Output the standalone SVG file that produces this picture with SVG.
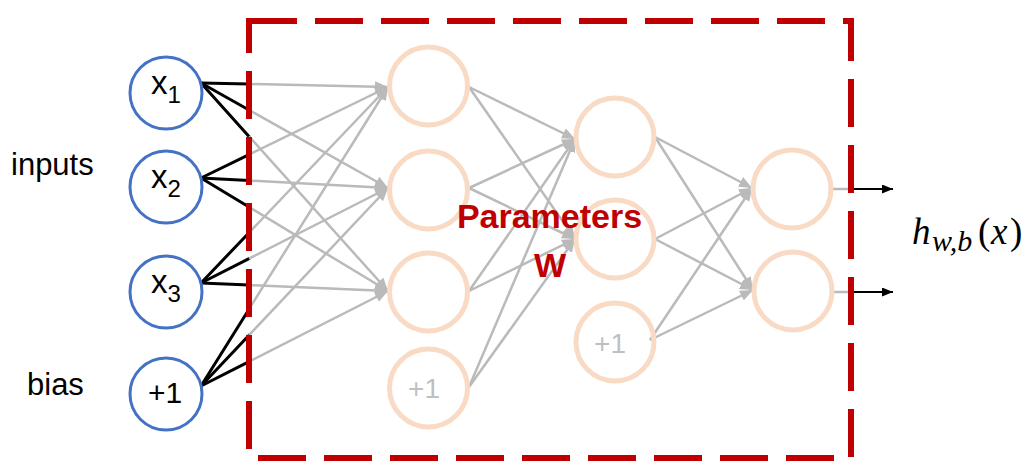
<svg xmlns="http://www.w3.org/2000/svg" width="1034" height="475" viewBox="0 0 1034 475">
<style>
.in{fill:#fff;stroke:#4472C4;stroke-width:3}
.hid{fill:none;stroke:#F9DAC5;stroke-width:5}
.g{stroke:#BABABA;stroke-width:2.5;fill:none}
.gm{stroke:#BABABA;stroke-width:2.5;fill:none;marker-end:url(#ga)}
.b{stroke:#000;stroke-width:3;fill:none;stroke-linecap:round}
.bm{stroke:#000;stroke-width:2;fill:none;marker-end:url(#ba)}
.lbl{font-family:"Liberation Sans",Arial,sans-serif;fill:#000}
.glbl{font-family:"Liberation Sans",Arial,sans-serif;fill:#BFBFBF;font-size:28px}
.red{font-family:"Liberation Sans",Arial,sans-serif;font-weight:bold;fill:#C00000;font-size:34px}
</style>
<defs>
<marker id="ga" markerUnits="userSpaceOnUse" markerWidth="14" markerHeight="12" refX="13" refY="5.5" orient="auto">
<path d="M0,0 L13,5.5 L0,11 z" fill="#BABABA"/>
</marker>
<marker id="ba" markerUnits="userSpaceOnUse" markerWidth="12" markerHeight="10" refX="11" refY="4.5" orient="auto">
<path d="M0,0 L11,4.5 L0,9 z" fill="#000"/>
</marker>
</defs>
<rect width="1034" height="475" fill="#fff"/>
<g id="connectors">
<line class="b" x1="201" y1="83" x2="249" y2="84"/>
<line class="b" x1="201" y1="83" x2="249" y2="110"/>
<line class="b" x1="201" y1="83" x2="249" y2="136.4"/>
<line class="b" x1="201" y1="178" x2="249" y2="154.6"/>
<line class="b" x1="201" y1="178" x2="249" y2="180.6"/>
<line class="b" x1="201" y1="178" x2="249" y2="207"/>
<line class="b" x1="201" y1="283" x2="249" y2="232.7"/>
<line class="b" x1="201" y1="283" x2="249" y2="258.6"/>
<line class="b" x1="201" y1="283" x2="249" y2="285.1"/>
<line class="b" x1="201" y1="386" x2="249" y2="309.2"/>
<line class="b" x1="201" y1="386" x2="249" y2="335.2"/>
<line class="b" x1="201" y1="386" x2="249" y2="361.6"/>
<line class="gm" x1="249" y1="84" x2="388" y2="87"/>
<line class="gm" x1="249" y1="110" x2="388" y2="188"/>
<line class="gm" x1="249" y1="136.4" x2="388" y2="291"/>
<line class="gm" x1="249" y1="154.6" x2="388" y2="87"/>
<line class="gm" x1="249" y1="180.6" x2="388" y2="188"/>
<line class="gm" x1="249" y1="207" x2="388" y2="291"/>
<line class="gm" x1="249" y1="232.7" x2="388" y2="87"/>
<line class="gm" x1="249" y1="258.6" x2="388" y2="188"/>
<line class="gm" x1="249" y1="285.1" x2="388" y2="291"/>
<line class="gm" x1="249" y1="309.2" x2="388" y2="87"/>
<line class="gm" x1="249" y1="335.2" x2="388" y2="188"/>
<line class="gm" x1="249" y1="361.6" x2="388" y2="291"/>
<line class="gm" x1="469" y1="87" x2="575" y2="139"/>
<line class="gm" x1="469" y1="87" x2="575" y2="239"/>
<line class="gm" x1="469" y1="188" x2="575" y2="139"/>
<line class="gm" x1="469" y1="188" x2="575" y2="239"/>
<line class="gm" x1="469" y1="291" x2="575" y2="139"/>
<line class="gm" x1="469" y1="291" x2="575" y2="239"/>
<line class="gm" x1="469" y1="387" x2="575" y2="139"/>
<line class="gm" x1="469" y1="387" x2="575" y2="239"/>
<line class="gm" x1="655" y1="137" x2="752" y2="188"/>
<line class="gm" x1="655" y1="137" x2="753" y2="290"/>
<line class="gm" x1="655" y1="239" x2="752" y2="188"/>
<line class="gm" x1="655" y1="239" x2="753" y2="290"/>
<line class="gm" x1="650" y1="340" x2="752" y2="188"/>
<line class="gm" x1="650" y1="340" x2="753" y2="290"/>
<line class="g" x1="832" y1="189" x2="851" y2="189"/>
<line class="bm" x1="851" y1="189" x2="893" y2="189"/>
<line class="g" x1="834" y1="292" x2="851" y2="292"/>
<line class="bm" x1="851" y1="292" x2="893" y2="292"/>
</g>
<g id="node-x1"><circle class="in" cx="166" cy="93" r="36"/><text class="lbl" x="151" y="94" font-size="33">x<tspan font-size="24" dy="9">1</tspan></text></g>
<g id="node-x2"><circle class="in" cx="166" cy="187" r="36"/><text class="lbl" x="151" y="188" font-size="33">x<tspan font-size="24" dy="9">2</tspan></text></g>
<g id="node-x3"><circle class="in" cx="166" cy="292" r="36"/><text class="lbl" x="151" y="293" font-size="33">x<tspan font-size="24" dy="9">3</tspan></text></g>
<g id="node-b0"><circle class="in" cx="166" cy="394" r="36"/><text class="lbl" x="165" y="403" font-size="30" text-anchor="middle">+1</text></g>
<g id="node-h11"><circle class="hid" cx="428.5" cy="86" r="39"/></g>
<g id="node-h12"><circle class="hid" cx="428.5" cy="190" r="39"/></g>
<g id="node-h13"><circle class="hid" cx="428.5" cy="292" r="39"/></g>
<g id="node-b1"><circle class="hid" cx="428.5" cy="388" r="39"/><text class="glbl" x="424" y="398" text-anchor="middle">+1</text></g>
<g id="node-h21"><circle class="hid" cx="615" cy="137" r="39"/></g>
<g id="node-h22"><circle class="hid" cx="615" cy="239" r="39"/></g>
<g id="node-b2"><circle class="hid" cx="615" cy="342" r="39"/><text class="glbl" x="610" y="353" text-anchor="middle">+1</text></g>
<g id="node-o1"><circle class="hid" cx="792" cy="189" r="39"/></g>
<g id="node-o2"><circle class="hid" cx="793" cy="291" r="39"/></g>
<g id="params-box">
<rect x="249" y="21" width="602" height="437" fill="none" stroke="#C00000" stroke-width="6" stroke-dasharray="48 18"/>
<text class="red" x="549.5" y="228" text-anchor="middle">Parameters</text>
<text class="red" x="550" y="277" text-anchor="middle">W</text>
</g>
<g id="labels">
<text class="lbl" x="11" y="175" font-size="31">inputs</text>
<text class="lbl" x="27" y="395" font-size="31">bias</text>
<text font-family="Liberation Serif,'Times New Roman',serif" font-size="37" fill="#000"><tspan x="912" y="244" font-style="italic">h</tspan><tspan x="932" y="251" font-size="30" font-style="italic">w,b</tspan><tspan x="978" y="244">(</tspan><tspan x="991" y="244" font-style="italic">x</tspan><tspan x="1010" y="244">)</tspan></text>
</g>
</svg>
